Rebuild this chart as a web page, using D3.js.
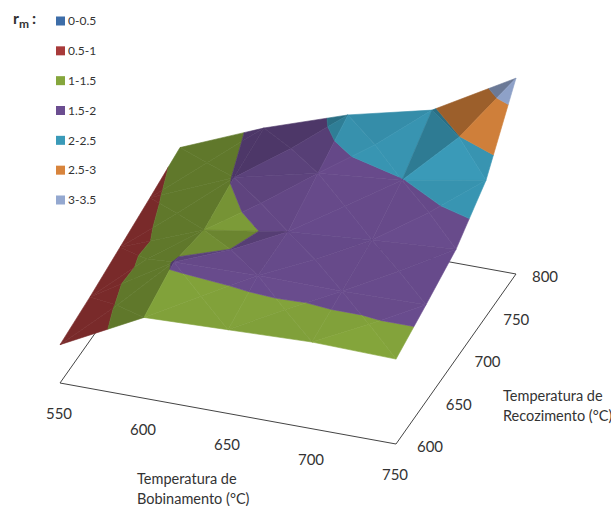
<!DOCTYPE html>
<html>
<head>
<meta charset="utf-8">
<script src="https://cdn.jsdelivr.net/npm/d3@7"></script>
<style>
  html, body { margin: 0; background: #fff; }
  text { font-family: Lato, "Open Sans", sans-serif; fill: #333; }
</style>
</head>
<body>
<div id="container"></div>
<script>
// DATA
const bobinamento = [550, 600, 650, 700, 750]
const recozimento = [600, 650, 700, 750, 800]
const rm600 = [0.59, 1.31, 1.36, 1.41, 1.38]
const rm650 = [0.68, 1.53, 1.56, 1.55, 1.58]
const rm700 = [0.80, 1.35, 1.58, 1.70, 1.80]
const rm750 = [0.92, 1.52, 1.85, 1.99, 2.25]
const rm800 = [1.05, 1.64, 2.12, 2.46, 3.26]
const rmRows = [rm600, rm650, rm700, rm750, rm800]
const bandNames = ['0-0.5', '0.5-1', '1-1.5', '1.5-2', '2-2.5', '2.5-3', '3-3.5']
const bandLimits = [0, 0.5, 1, 1.5, 2, 2.5, 3, 3.5]
const bandColors = ['#3d6da8', '#a83a3a', '#85a63c', '#6b4d90', '#3a9ab8', '#d8843c', '#94a8d0']

const width = 611
const height = 506

const svg = d3.select('#container').append('svg')
  .attr('width', width)
  .attr('height', height)
  .style('display', 'block')

// SCALES - the floor is a parallelogram, so x and y both depend on the two axes
const bobScale = d3.scalePoint().domain(bobinamento).range([0, 1])
const recScale = d3.scalePoint().domain(recozimento).range([0, 1])
const zScale = d3.scaleLinear().domain([0, 3.5]).range([3.5, 210])

const floorAt = (u, v) => [60 + 336 * u + 120 * v, 383 + 61 * u - 170 * v]
const project = p => {
  const f = floorAt(p.u, p.v)
  return [f[0], f[1] - zScale(p.z)]
}

// FLOOR
const corners = [floorAt(0, 0), floorAt(1, 0), floorAt(1, 1), floorAt(0, 1)]
svg.append('path')
  .attr('d', d3.line()(corners) + 'Z')
  .attr('fill', 'none')
  .attr('stroke', '#444')
  .attr('stroke-width', 1)

// SURFACE
// every grid cell is cut into 4 triangles around its mean, then each triangle into rm bands
function clipBand(tri, lo, hi) {
  const clip = (pts, inside, limit) => {
    const out = []
    pts.forEach((a, k) => {
      const b = pts[(k + 1) % pts.length]
      if (inside(a)) out.push(a)
      if (inside(a) !== inside(b)) {
        const t = (limit - a.z) / (b.z - a.z)
        out.push({u: a.u + t * (b.u - a.u), v: a.v + t * (b.v - a.v), z: limit})
      }
    })
    return out
  }
  let pts = clip(tri, p => p.z >= lo, lo)
  if (pts.length) pts = clip(pts, p => p.z <= hi, hi)
  return pts
}

// brightness from the slope of the triangle along each axis (per grid step)
// squared so that nearly flat facets stay close to the base colour
function shade(tri) {
  const [a, b, c] = tri
  const nSteps = bobinamento.length - 1
  const ux = (b.u - a.u) * nSteps, vx = (b.v - a.v) * nSteps, zx = b.z - a.z
  const uy = (c.u - a.u) * nSteps, vy = (c.v - a.v) * nSteps, zy = c.z - a.z
  const det = ux * vy - uy * vx
  const du = (zx * vy - zy * vx) / det
  const dv = (ux * zy - uy * zx) / det
  const d = 0.35 * dv - 0.65 * du
  return Math.max(0.72, Math.min(1.0, 0.96 + 5 * d * Math.abs(d)))
}

const surface = svg.append('g')
for (let j = recozimento.length - 2; j >= 0; j--) {
  for (let i = 0; i < bobinamento.length - 1; i++) {
    const vert = (a, b) => ({u: bobScale(bobinamento[a]), v: recScale(recozimento[b]), z: rmRows[b][a]})
    const p00 = vert(i, j), p10 = vert(i + 1, j), p11 = vert(i + 1, j + 1), p01 = vert(i, j + 1)
    const mid = {
      u: (p00.u + p10.u) / 2,
      v: (p00.v + p01.v) / 2,
      z: d3.mean([p00, p10, p11, p01], d => d.z)
    }
    const tris = [[p01, p11, mid], [p00, p01, mid], [p10, p11, mid], [p00, p10, mid]]
    tris.forEach(tri => {
      const f = shade(tri)
      bandColors.forEach((col, b) => {
        const pts = clipBand(tri, bandLimits[b], bandLimits[b + 1])
        if (pts.length < 3) return
        const c = d3.rgb(col)
        const fill = d3.rgb(c.r * f, c.g * f, c.b * f).formatHex()
        surface.append('path')
          .attr('d', d3.line()(pts.map(project)) + 'Z')
          .attr('fill', fill)
          .attr('stroke', fill)
          .attr('stroke-width', 0.6)
          .attr('stroke-linejoin', 'round')
      })
    })
  }
}

// TICK LABELS
svg.selectAll('text.xtick')
  .data(bobinamento)
  .enter().append('text')
  .attr('class', 'xtick')
  .attr('text-anchor', 'middle')
  .attr('dy', '.35em')
  .style('font-size', '15px')
  .attr('x', d => floorAt(bobScale(d), 0)[0] - 1)
  .attr('y', d => floorAt(bobScale(d), 0)[1] + 31)
  .text(d => d)

svg.selectAll('text.ytick')
  .data(recozimento)
  .enter().append('text')
  .attr('class', 'ytick')
  .attr('text-anchor', 'middle')
  .attr('dy', '.35em')
  .style('font-size', '15px')
  .attr('x', d => floorAt(1, recScale(d))[0] + 34 - 5 * recScale(d))
  .attr('y', d => floorAt(1, recScale(d))[1] + 3)
  .text(d => d)

// AXIS TITLES
const axisTitle = (x, y, lines) => lines.forEach((line, k) => {
  svg.append('text')
    .attr('x', x)
    .attr('y', y + k * 19.5)
    .attr('dy', '.35em')
    .style('font-size', '14.5px')
    .text(line)
})
axisTitle(137, 479, ['Temperatura de', 'Bobinamento (°C)'])
axisTitle(503, 396, ['Temperatura de', 'Recozimento (°C)'])

// LEGEND
const legendY = d3.scalePoint().domain(bandNames).range([21, 200])
const legend = svg.selectAll('g.legend')
  .data(bandNames)
  .enter().append('g')
  .attr('class', 'legend')
  .attr('transform', d => 'translate(56,' + legendY(d) + ')')
legend.append('rect')
  .attr('y', -4.5)
  .attr('width', 9)
  .attr('height', 9)
  .attr('fill', (d, k) => bandColors[k])
legend.append('text')
  .attr('x', 12)
  .attr('dy', '.35em')
  .style('font-size', '12px')
  .text(d => d)

const rmLabel = svg.append('text')
  .attr('x', 13)
  .attr('y', 24)
  .style('font-size', '16px')
  .style('font-weight', 'bold')
rmLabel.append('tspan').text('r')
rmLabel.append('tspan').attr('dy', 4).style('font-size', '12px').text('m')
rmLabel.append('tspan').attr('dy', -4).attr('dx', 3).text(':')
</script>
</body>
</html>
